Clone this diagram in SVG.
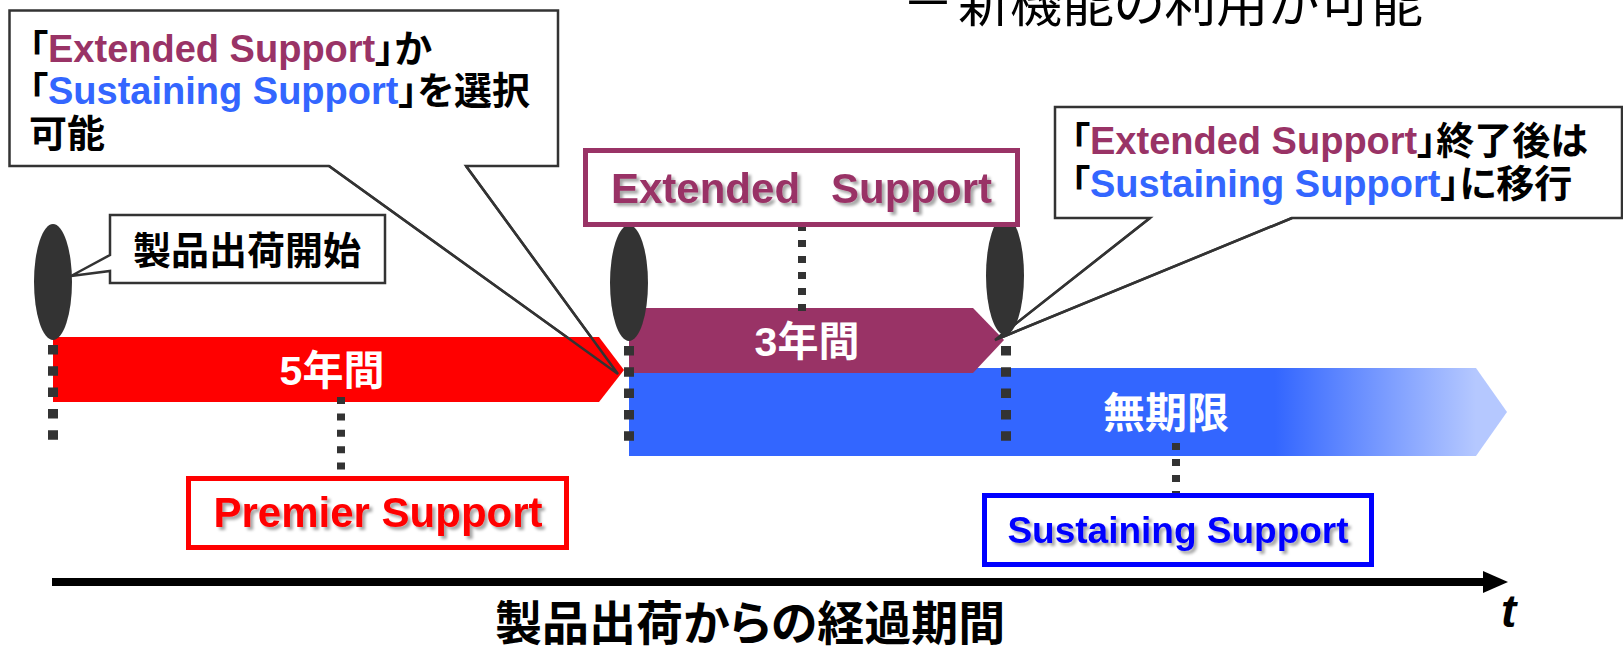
<svg xmlns="http://www.w3.org/2000/svg" width="1623" height="647" viewBox="0 0 1623 647">
<defs>
<style>
.t{font-family:"Liberation Sans","Noto Sans CJK JP",sans-serif;font-weight:bold;font-feature-settings:"palt";}
.callout{fill:#fff;stroke:#333;stroke-width:2.5;stroke-linejoin:miter;}
.tail{fill:none;stroke:#333;stroke-width:2.5;}
.dots{fill:none;stroke:#333;}
.knob{fill:#333;}
.lbl{fill:#fff;text-anchor:middle;}
.box{fill:#fff;stroke-width:5;}
.ext{fill:#993366;}
.sus{fill:#3366FF;}
</style>
<linearGradient id="blueGrad" gradientUnits="userSpaceOnUse" x1="1275" y1="0" x2="1476" y2="0">
<stop offset="0" stop-color="#3366FF"/>
<stop offset="1" stop-color="#B5C8FF"/>
</linearGradient>
<filter id="shadow" x="-5%" y="-20%" width="115%" height="160%">
<feDropShadow dx="3" dy="3" stdDeviation="1.5" flood-color="#000" flood-opacity="0.35"/>
</filter>
</defs>

<rect width="1623" height="647" fill="#fff"/>

<text class="t" x="902" y="22" font-size="52" style="font-weight:normal">－<tspan x="958">新機能の利用が可能</tspan></text>

<g id="callout-select">
<path class="callout" d="M9.5,10.5 H558 V166 H466 L618,374 L329,166 H9.5 Z"/>
<text class="t" font-size="38" x="29" y="62">「<tspan class="ext">Extended Support</tspan>」か</text>
<text class="t" font-size="38" x="29" y="104">「<tspan class="sus">Sustaining Support</tspan>」を選択</text>
<text class="t" font-size="38" x="29" y="147">可能</text>
</g>

<g id="callout-migrate">
<path class="callout" d="M1055,107 H1622 V218 H1292 L995,340 L1150,218 H1055 Z"/>
<text class="t" font-size="38" x="1071" y="154">「<tspan class="ext">Extended Support</tspan>」終了後は</text>
<text class="t" font-size="38" x="1071" y="197">「<tspan class="sus">Sustaining Support</tspan>」に移行</text>
</g>

<g id="bar-premier">
<polygon points="53,337 599,337 624,370 599,402 53,402" fill="#FF0000"/>
<text class="t lbl" font-size="41" x="332" y="385">5年間</text>
</g>

<g id="bar-sustaining">
<polygon points="629,368 1476,368 1507,412 1476,456 629,456" fill="url(#blueGrad)"/>
<text class="t lbl" font-size="42" x="1166" y="428">無期限</text>
</g>

<g id="bar-extended">
<polygon points="629,308 973,308 1004,340 973,373 629,373" fill="#993366"/>
<text class="t lbl" font-size="41" x="807" y="356">3年間</text>
</g>

<g id="connectors">
<path class="tail" d="M329,166 L618,374 L466,166"/>
<path class="tail" d="M1150,218 L995,340 L1292,218"/>
<line class="dots" x1="53" y1="345" x2="53" y2="441" stroke-width="10" stroke-dasharray="9.5 11.8"/>
<line class="dots" x1="629" y1="346" x2="629" y2="442" stroke-width="10" stroke-dasharray="9.5 11.8"/>
<line class="dots" x1="1006" y1="346" x2="1006" y2="442" stroke-width="10" stroke-dasharray="9.5 11.8"/>
<line class="dots" x1="341" y1="397" x2="341" y2="486" stroke-width="8" stroke-dasharray="7 9.4"/>
<line class="dots" x1="802" y1="224" x2="802" y2="311" stroke-width="8" stroke-dasharray="7 9"/>
<line class="dots" x1="1176" y1="443" x2="1176" y2="499" stroke-width="8" stroke-dasharray="7 9"/>
</g>

<g id="milestone-start">
<ellipse class="knob" cx="53" cy="282" rx="19" ry="58"/>
</g>
<g id="milestone-extended">
<ellipse class="knob" cx="629" cy="283" rx="19" ry="58"/>
</g>
<g id="milestone-end">
<ellipse class="knob" cx="1005" cy="275.5" rx="19" ry="59.5"/>
</g>

<g id="callout-ship">
<path class="callout" d="M110,215 H385 V283 H110 V271 L71,276 L110,255 Z"/>
<text class="t" font-size="38" x="247" y="264" text-anchor="middle">製品出荷開始</text>
</g>

<g id="label-extended">
<rect class="box" x="585.5" y="150.5" width="432" height="74" stroke="#993366"/>
<text class="t ext" font-size="42" y="203" filter="url(#shadow)"><tspan x="611">Extended</tspan><tspan x="831">Support</tspan></text>
</g>

<g id="label-premier">
<rect class="box" x="188.5" y="478.5" width="378" height="69" stroke="#FF0000"/>
<text class="t" font-size="42" x="378" y="527" text-anchor="middle" fill="#FF0000" filter="url(#shadow)">Premier Support</text>
</g>

<g id="label-sustaining">
<rect class="box" x="984.5" y="495.5" width="387" height="69" stroke="#0000FF"/>
<text class="t" font-size="37" x="1178" y="543" text-anchor="middle" fill="#0000FF" filter="url(#shadow)">Sustaining Support</text>
</g>

<g id="axis">
<line x1="52" y1="582" x2="1485" y2="582" stroke="#000" stroke-width="8"/>
<polygon points="1483,571 1508,582 1483,593" fill="#000"/>
<text font-family="Liberation Sans, sans-serif" font-weight="bold" font-style="italic" font-size="46" x="1501" y="627">t</text>
<text class="t" font-size="47" x="495" y="640">製品出荷からの経過期間</text>
</g>
</svg>
